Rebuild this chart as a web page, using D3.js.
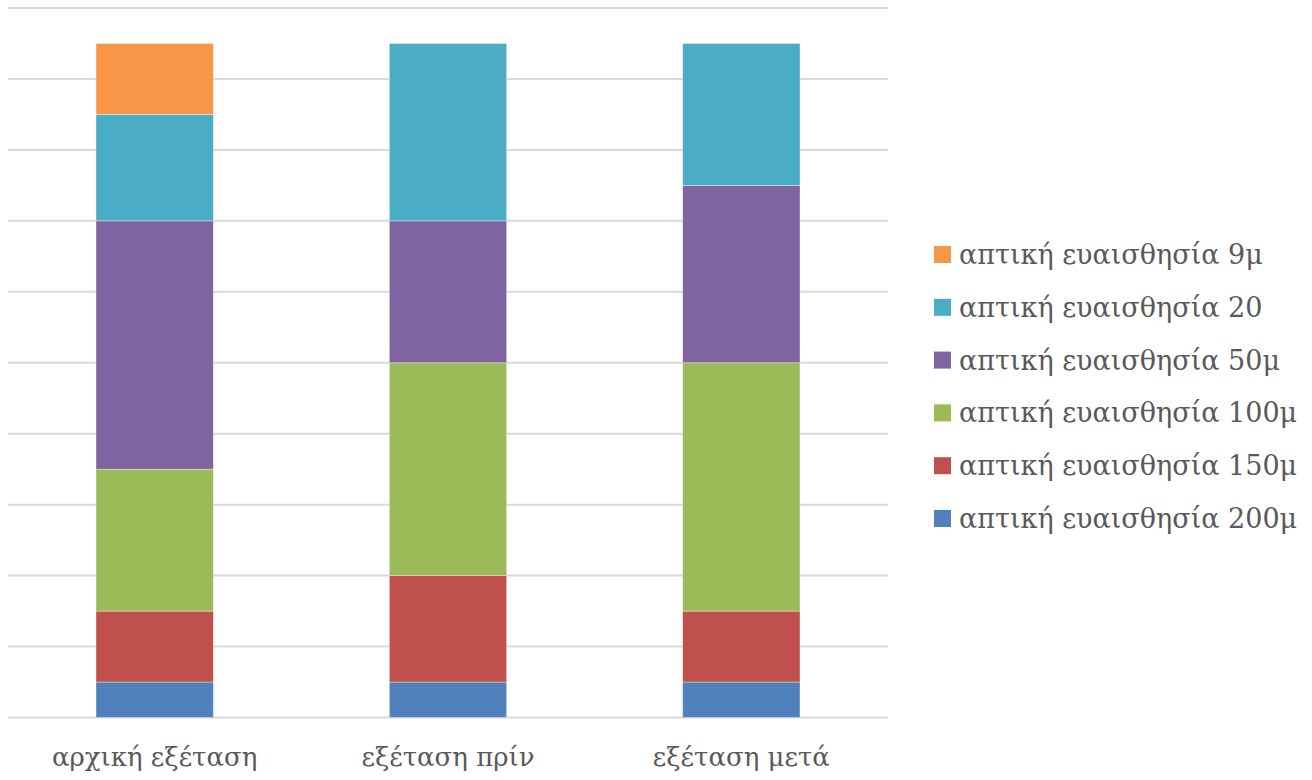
<!DOCTYPE html>
<html>
<head>
<meta charset="utf-8">
<script src="https://cdn.jsdelivr.net/npm/d3@7"></script>
<style>
  html, body { margin: 0; padding: 0; background: #fff; }
  svg { display: block; }
  text { font-family: "DejaVu Serif", "Liberation Serif", serif; fill: #595959; }
</style>
</head>
<body>
<svg id="chart" width="1312" height="780"></svg>
<script>
// Exam sessions along the horizontal axis
const categories = ["αρχική εξέταση", "εξέταση πρίν", "εξέταση μετά"];

// Series, bottom of the stack first
const seriesNames = [
  "απτική ευαισθησία 200μ",
  "απτική ευαισθησία 150μ",
  "απτική ευαισθησία 100μ",
  "απτική ευαισθησία 50μ",
  "απτική ευαισθησία 20",
  "απτική ευαισθησία 9μ"
];
const seriesColors = ["#4f81bd", "#c0504d", "#9bbb59", "#8064a2", "#4bacc6", "#f79646"];

// Counts per session for each series
const s200 = [1, 1, 1];
const s150 = [2, 3, 2];
const s100 = [4, 6, 7];
const s50  = [7, 4, 5];
const s20  = [3, 5, 4];
const s9   = [2, 0, 0];

// Value axis gridlines (labels hidden)
const yTicks = [0, 2, 4, 6, 8, 10, 12, 14, 16, 18, 20];

const seriesValues = [s200, s150, s100, s50, s20, s9];
const table = categories.map((c, i) => {
  const row = { category: c };
  seriesNames.forEach((n, k) => { row[n] = seriesValues[k][i]; });
  return row;
});

const svg = d3.select("#chart");
const plot = { left: 8, right: 888, top: 8, bottom: 717.5 };

const x = d3.scaleBand()
  .domain(categories)
  .range([plot.left, plot.right])
  .paddingInner(0.6)
  .paddingOuter(0.3);

const y = d3.scaleLinear()
  .domain([0, 20])
  .range([plot.bottom, plot.top]);

// Gridlines
svg.append("g")
  .selectAll("line")
  .data(yTicks)
  .join("line")
  .attr("x1", plot.left)
  .attr("x2", plot.right)
  .attr("y1", d => y(d))
  .attr("y2", d => y(d))
  .attr("stroke", "#d9d9d9")
  .attr("stroke-width", 2);

// Stacked bars
const stack = d3.stack().keys(seriesNames)(table);
svg.append("g")
  .selectAll("g")
  .data(stack)
  .join("g")
  .attr("fill", (d, i) => seriesColors[i])
  .selectAll("rect")
  .data(d => d.filter(p => p[1] - p[0] > 0))
  .join("rect")
  .attr("x", d => x(d.data.category))
  .attr("width", x.bandwidth())
  .attr("y", d => y(d[1]))
  .attr("height", d => y(d[0]) - y(d[1]))
  .attr("stroke", "rgba(255,255,255,0.5)")
  .attr("stroke-width", 0.75);

// Category axis labels
const xAxis = d3.axisBottom(x).tickSize(0).tickPadding(0);
const gx = svg.append("g")
  .attr("transform", `translate(0,${plot.bottom})`)
  .call(xAxis);
gx.select(".domain").remove();
gx.selectAll("text")
  .attr("dy", null)
  .attr("y", 48.5)
  .style("font-size", "26px")
  .style("font-family", "'DejaVu Serif', 'Liberation Serif', serif")
  .attr("fill", "#595959");

// Legend, top series first
const legendItems = seriesNames.map((n, i) => ({ name: n, color: seriesColors[i] })).reverse();
const legend = svg.append("g")
  .selectAll("g")
  .data(legendItems)
  .join("g")
  .attr("transform", (d, i) => `translate(934,${246 + i * 52.8})`);

legend.append("rect")
  .attr("width", 17)
  .attr("height", 17)
  .attr("fill", d => d.color);

legend.append("text")
  .attr("x", 25)
  .attr("y", 18)
  .style("font-size", "27px")
  .text(d => d.name);
</script>
</body>
</html>
